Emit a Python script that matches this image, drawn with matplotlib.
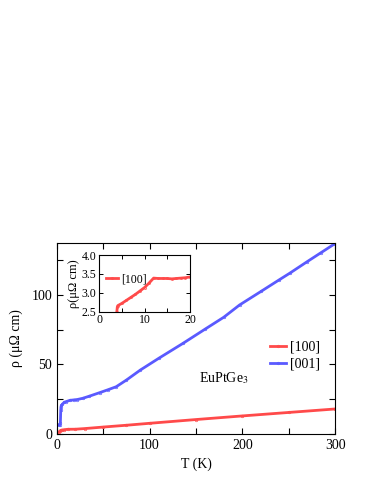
import numpy as np
import matplotlib
matplotlib.use('Agg')
import matplotlib.pyplot as plt
from matplotlib.ticker import MultipleLocator

plt.rcParams['font.family'] = ['Liberation Serif', 'DejaVu Serif']
plt.rcParams['mathtext.fontset'] = 'stix'

# [001] resistivity (muOhm cm) vs T (K)
T_001 = [2, 3, 3.8, 4.2, 4.5, 5, 6, 8, 10, 14, 18, 22, 28, 35, 46, 55, 64, 75,
         90, 110, 136, 160, 180, 197, 220, 240, 251, 270, 285, 300]
rho_001 = [6.5, 6.5, 8, 17, 19.6, 20.5, 21.5, 22.8, 23.3, 24.2, 24.5, 24.8, 25.7,
           27.2, 29.7, 31.8, 34, 38.8, 46, 54.5, 65.2, 75.5, 84, 92.8, 102.5,
           111, 115.6, 124, 130.5, 137]

# [100]
T_100 = [2, 3, 4, 6, 8, 12, 20, 30, 50, 75, 100, 150, 200, 250, 300]
rho_100 = [1.2, 2.0, 2.6, 2.9, 3.1, 3.4, 3.45, 3.9, 5.0, 6.3, 7.7, 10.4, 13.0,
           15.5, 18.0]

# inset: [100] low-T detail
T_in = [3.9, 4.0, 4.1, 5, 6, 7, 8, 9, 10, 11, 12, 13, 14, 15, 16, 17, 18, 19, 20]
rho_in = [2.5, 2.62, 2.66, 2.72, 2.8, 2.88, 2.96, 3.05, 3.14, 3.26, 3.39, 3.38,
          3.38, 3.38, 3.37, 3.38, 3.39, 3.40, 3.42]

red = '#ff4a4a'
blue = '#5a5aff'

fig = plt.figure(figsize=(3.74, 4.84), dpi=100)
ax = fig.add_axes([0.152, 0.1033, 0.744, 0.395])

ax.plot(T_100, rho_100, color=red, lw=2.0, marker='o', ms=1.8, mfc='none',
        mew=0.5, label='[100]')
ax.plot(T_001, rho_001, color=blue, lw=2.0, marker='o', ms=1.8, mfc='none',
        mew=0.5, label='[001]')

ax.set_xlim(0, 300)
ax.set_ylim(0, 137.5)
ax.xaxis.set_major_locator(MultipleLocator(100))
ax.xaxis.set_minor_locator(MultipleLocator(50))
ax.yaxis.set_major_locator(MultipleLocator(50))
ax.yaxis.set_minor_locator(MultipleLocator(25))
ax.tick_params(which='both', direction='in', top=True, right=True,
               labelsize=10, width=0.8, length=4)
ax.set_xlabel('T (K)', fontsize=10, labelpad=4)
ax.set_ylabel('ρ (μΩ cm)', fontsize=10, labelpad=6)

ax.legend(loc='center right', bbox_to_anchor=(0.99, 0.41), frameon=False,
          fontsize=10, handlelength=1.1, handletextpad=0.3, labelspacing=0.3)
ax.text(0.51, 0.27, r'EuPtGe$_3$', transform=ax.transAxes, fontsize=10)

# inset
axi = fig.add_axes([0.265, 0.356, 0.243, 0.117])
axi.plot(T_in, rho_in, color=red, lw=2.0, marker='o', ms=1.5, mfc='none',
         mew=0.5, label='[100]')
axi.set_xlim(0, 20)
axi.set_ylim(2.5, 4.0)
axi.xaxis.set_major_locator(MultipleLocator(10))
axi.xaxis.set_minor_locator(MultipleLocator(5))
axi.set_yticks([2.5, 3.0, 3.5, 4.0])
axi.set_yticklabels(['2.5', '3.0', '3.5', '4.0'])
axi.tick_params(which='both', direction='in', top=True, right=True,
                labelsize=8.5, length=3, width=0.7, pad=2)
axi.set_ylabel('ρ(μΩ cm)', fontsize=9, labelpad=1)
axi.legend(loc='upper left', bbox_to_anchor=(0.0, 0.8), frameon=False,
           fontsize=8.5, handlelength=1.0, handletextpad=0.3, borderaxespad=0.2)

fig.savefig('out.png', dpi=100)
